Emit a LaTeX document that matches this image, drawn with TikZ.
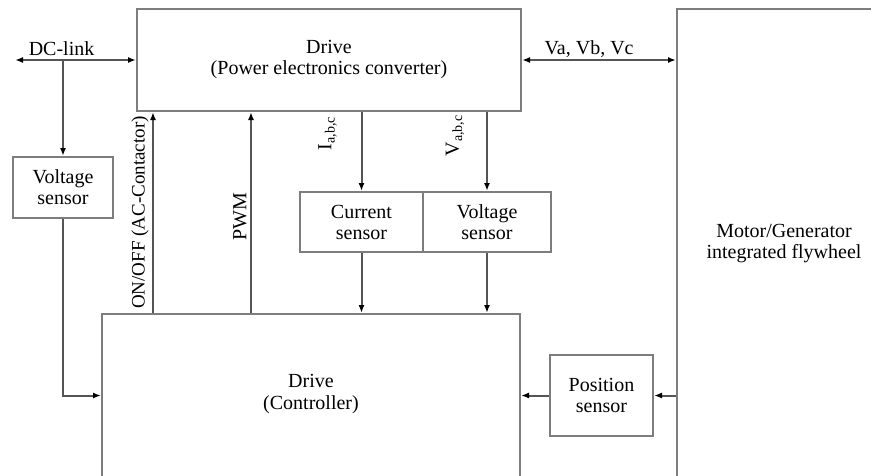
\documentclass[tikz,border=0pt]{standalone}
\usepackage{fontspec}
\setmainfont{Liberation Serif}
\usetikzlibrary{arrows.meta}
\definecolor{BoxGray}{RGB}{125,125,125}
\definecolor{WireGray}{RGB}{85,85,85}

\begin{document}
\begin{tikzpicture}[x=1pt, y=-1pt,
    font=\fontsize{20}{21}\selectfont,
    >={Latex[length=8pt,width=6pt,color=black]},
    block/.style={draw=BoxGray, line width=2pt, rectangle, align=center, inner sep=0pt},
    wire/.style={draw=WireGray, line width=2pt},
    lbl/.style={inner sep=1pt}]
    \useasboundingbox (0,0) rectangle (871,475);

    \node (Converter) [block, minimum width=384, minimum height=102] at (329,60) {Drive\\(Power electronics converter)};
    \node (Controller) [block, minimum width=418, minimum height=180] at (311,404) {};
    \node (CtrlText) [lbl, align=center] at (311,394) {Drive\\(Controller)};
    \node (Motor) [block, minimum width=214, minimum height=470] at (784,244) {Motor/Generator\\integrated flywheel};
    \node (VSensDC) [block, minimum width=100, minimum height=61] at (63,187.5) {Voltage\\sensor};
    \node (ISens) [block, minimum width=123, minimum height=60] at (361.5,222) {Current\\sensor};
    \node (VSens) [block, minimum width=128, minimum height=60] at (487,222) {Voltage\\sensor};
    \node (PosSens) [block, minimum width=103, minimum height=81] at (601.5,395.5) {Position\\sensor};

    \coordinate (DCEnd) at (15,60);
    \coordinate (OnOffX) at (153,0);
    \coordinate (PWMX) at (251,0);

    % DC side
    \draw[wire, <->] (DCEnd) -- node[lbl, pos=0.385, yshift=11pt] {DC-link} (Converter.west);
    \draw[wire, ->] (VSensDC.north |- DCEnd) -- (VSensDC.north);
    \draw[wire, ->] (VSensDC.south) |- (Controller.west |- PosSens.west);

    % controller to converter
    \draw[wire, ->] (Controller.north -| OnOffX) -- node[lbl, pos=0.5, xshift=-13pt, rotate=90, font=\fontsize{19}{20}\selectfont] {ON/OFF (AC-Contactor)} (Converter.south -| OnOffX);
    \draw[wire, ->] (Controller.north -| PWMX) -- node[lbl, pos=0.48, xshift=-11pt, rotate=90] {PWM} (Converter.south -| PWMX);

    % measurements
    \draw[wire, ->] (Converter.south -| ISens.north) -- node[lbl, pos=0.27, xshift=-34pt, rotate=90] {I\textsubscript{a,b,c}} (ISens.north);
    \draw[wire, ->] (Converter.south -| VSens.north) -- node[lbl, pos=0.3, xshift=-32pt, rotate=90] {V\textsubscript{a,b,c}} (VSens.north);
    \draw[wire, ->] (ISens.south) -- (Controller.north -| ISens.south);
    \draw[wire, ->] (VSens.south) -- (Controller.north -| VSens.south);

    % machine side
    \draw[wire, <->] (Converter.east) -- node[lbl, pos=0.436, yshift=11pt] {Va, Vb, Vc} (Motor.west |- Converter.east);
    \draw[wire, ->] (Motor.west |- PosSens.east) -- (PosSens.east);
    \draw[wire, ->] (PosSens.west) -- (Controller.east |- PosSens.west);
\end{tikzpicture}
\end{document}
